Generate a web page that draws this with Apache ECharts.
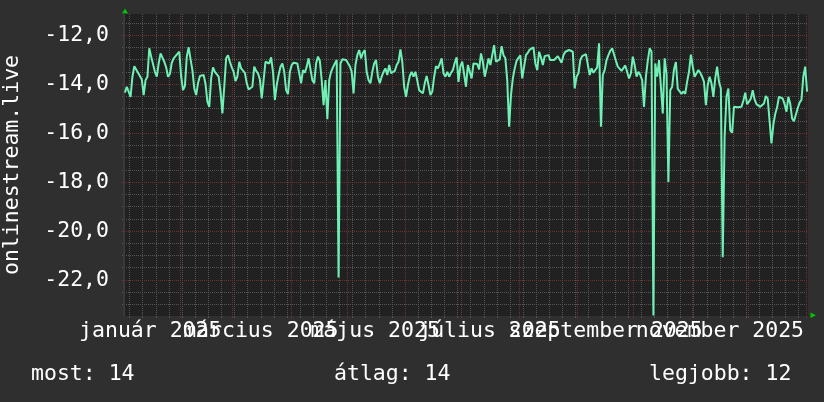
<!DOCTYPE html>
<html><head><meta charset="utf-8">
<script src="https://cdn.jsdelivr.net/npm/echarts@6/dist/echarts.min.js"></script>
<style>html,body{margin:0;padding:0;background:#2f2f2f}#c{width:824px;height:402px}</style>
</head><body><div id="c"></div>
<script>
// ---- data ----
const firstDate = '2025-01-02';          // date of the first daily value
const rangeStart = '2025-01-02';
const rangeEnd = '2026-01-02';
const values = [
-14.35,-14.11,-14.04,-14.52,-13.70,-13.27,-13.27,-13.54,-13.54,-13.81,
-14.45,-13.84,-13.70,-12.54,-12.88,-12.95,-13.50,-13.70,-13.16,-12.75,
-12.72,-13.09,-13.32,-13.70,-13.59,-13.13,-12.95,-12.86,-12.78,-12.68,
-13.70,-14.25,-14.08,-12.88,-12.50,-12.98,-13.43,-14.18,-14.45,-13.97,
-13.67,-13.66,-13.63,-14.00,-14.72,-14.93,-13.77,-13.32,-13.50,-13.51,
-13.70,-14.31,-15.20,-14.11,-12.95,-12.82,-13.09,-13.32,-13.50,-13.88,
-13.70,
-13.09,-13.36,-13.43,-13.54,-13.97,-14.22,-14.19,-14.11,-13.29,-13.46,
-13.56,-13.81,-14.59,-13.84,-13.09,-13.09,-13.16,-12.91,-13.50,-14.65,
-14.04,-13.63,-13.29,-13.16,-13.50,-14.25,-14.41,-13.50,-13.22,-13.13,
-13.16,-13.16,-13.56,-13.97,-13.43,-13.54,-13.29,-12.95,-12.88,-13.84,
-13.97,-13.16,-12.88,-13.05,-13.84,-14.86,-13.84,-15.44,-13.84,-13.50,
-13.32,-13.16,-13.02,-21.90,-13.16,-12.99,-12.95,-13.02,-13.09,-13.27,
-13.50,-14.38,-13.22,-12.82,-12.61,-12.95,-12.72,-12.61,-13.50,-13.84,
-13.97,-13.50,-13.16,-13.02,-13.70,-13.97,-13.70,-13.50,-13.36,-13.63,
-13.22,-13.56,-13.63,-13.46,-13.22,-13.09,-12.59,-13.09,-14.11,-14.52,
-14.04,-13.67,-13.50,-13.70,-13.50,-13.86,-14.25,-14.25,-14.38,-13.97,
-13.67,-14.04,-14.45,-14.31,-13.70,-13.27,-13.36,-13.18,-12.95,-13.56,
-13.70,-13.50,-13.70,-13.54,-13.43,-13.13,-12.91,-13.91,-13.27,-13.09,
-13.16,-14.11,-13.22,-13.29,-13.77,-13.16,-13.22,-13.18,-13.40,-12.75,
-13.09,-13.70,-13.36,-12.95,-13.22,-12.82,-12.41,-13.09,-13.09,-12.99,
-12.45,-12.82,-12.95,-13.84,-15.74,-14.45,-13.77,-13.36,-13.05,-12.93,
-12.83,-13.77,-13.70,-12.82,-12.72,-12.59,-12.54,-12.50,-13.16,-13.43,
-12.68,-12.91,-13.22,-12.86,-12.86,-12.82,-13.02,-13.05,-13.02,-13.05,
-12.86,-12.88,-13.13,-12.82,-12.68,-12.61,-12.61,-12.68,-12.68,-14.18,
-13.70,-13.56,
-13.02,-12.86,-12.83,-12.78,-12.82,-13.63,-13.36,-13.54,-13.46,-13.32,
-12.34,-15.74,-13.63,-13.43,-13.02,-12.82,-12.64,-12.54,-12.61,-13.05,
-13.29,-13.22,-13.46,-13.50,-13.24,-13.29,-13.77,-13.56,-12.88,-13.22,
-13.70,-13.50,-13.63,-13.84,-14.93,-13.70,-13.05,-12.54,-12.68,-23.45,
-13.16,-13.70,-13.02,-14.11,-15.20,-12.95,-13.60,-18.00,-14.25,-14.11,
-13.40,-13.10,-14.20,-14.30,-14.40,-14.30,-14.40,-13.90,-13.50,-12.80,
-13.29,-13.70,-13.77,-13.43,-13.54,-13.70,-13.91,-14.86,-14.04,-13.70,
-13.97,-14.52,-13.77,-13.29,-13.91,-14.18,-21.07,-16.15,-14.52,-14.18,
-15.88,-15.99,-14.93,-14.90,-14.95,-14.99,-14.93,-14.68,-14.35,-14.82,
-14.72,-14.59,-14.25,-14.63,-14.82,-14.87,-14.93,-14.86,-14.79,-14.49,
-14.59,-14.52,-16.42,-15.67,-15.22,-14.95,-14.52,-14.45,-14.59,-14.82,
-15.13,-14.52,-14.79,-15.40,-15.52,-15.54,-14.99,-14.76,-14.65,-13.70,
-13.29,-14.31
];
const monthNames = ['január','február','március','április','május','június','július','augusztus','szeptember','október','november','december'];
const labelEveryMonths = 2;
const yMin = -23.47, yMax = -11.14;
const yMajorTicks = [-22,-20,-18,-16,-14,-12];
const yMinorTicks = [-23,-22.5,-22,-21.5,-21,-20.5,-20,-19.5,-19,-18.5,-18,-17.5,-17,-16.5,-16,-15.5,-15,-14.5,-14,-13.5,-13,-12.5,-12,-11.5];
const axisTitle = 'onlinestream.live';
const statLabels = ['most', 'átlag', 'legjobb'];
const statValues = [14, 14, 12];

// ---- helpers ----
const DAY = 86400000;
const origin = Date.UTC(2025, 0, 1);
const toDay = s => (Date.parse(s + 'T00:00:00Z') - origin) / DAY;
const dayToDate = d => new Date(origin + d * DAY);
const xMin = toDay(rangeStart), xMax = toDay(rangeEnd);
const first = toDay(firstDate);
const seriesData = values.map((v, i) => [first + i + 0.5, v]);

const monthStarts = [], labelPos = [], weekStarts = [];
for (let m = 0; m <= 13; m++) {
  const d = (Date.UTC(2025, m, 1) - origin) / DAY;
  if (d >= xMin && d <= xMax) monthStarts.push(d);
  if (m % labelEveryMonths === 0 && m < 12) labelPos.push(d + 15);
}
for (let d = Math.ceil(xMin); d <= xMax; d++) {
  if (dayToDate(d).getUTCDay() === 0) weekStarts.push(d);
}
// the labels overlap in the original; split them over two axes so none gets dropped
const labelsA = labelPos.filter((_, i) => i % 2 === 0);
const labelsB = labelPos.filter((_, i) => i % 2 === 1);

const FONT = 'DejaVu Sans Mono';
const FS = 21.5;
const TXT = '#ffffff';
const MINOR = '#555555';
const MAJOR = '#6e3232';
const monthLabel = v => { const dt = dayToDate(v); return monthNames[dt.getUTCMonth()] + ' ' + dt.getUTCFullYear(); };
const xLabelStyle = (vals) => ({
  customValues: vals, margin: 4, color: TXT, fontFamily: FONT, fontSize: FS,
  hideOverlap: false, showMinLabel: true, showMaxLabel: true, formatter: monthLabel
});

const chart = echarts.init(document.getElementById('c'), null, {renderer: 'canvas'});
chart.setOption({
  animation: false,
  backgroundColor: '#2f2f2f',
  grid: {left: 124, right: 16, top: 14, bottom: 86, show: true, backgroundColor: '#212121', borderWidth: 0,
         containLabel: false, outerBoundsMode: 'none'},
  xAxis: [{
    type: 'value', min: xMin, max: xMax, z: 2, position: 'bottom',
    axisLine: {show: false},
    axisTick: {show: true, customValues: monthStarts, length: 2, lineStyle: {color: MAJOR}},
    splitLine: {show: true, lineStyle: {color: MAJOR, width: 1, type: [1, 1]}},
    axisLabel: xLabelStyle(labelsA)
  }, {
    type: 'value', min: xMin, max: xMax, position: 'bottom', z: 1,
    axisLine: {show: false},
    axisTick: {show: true, customValues: weekStarts, length: 2, lineStyle: {color: MINOR}},
    splitLine: {show: true, lineStyle: {color: MINOR, width: 1, type: [1, 1]}},
    axisLabel: xLabelStyle(labelsB)
  }],
  yAxis: [{
    type: 'value', min: yMin, max: yMax, position: 'left', z: 2,
    name: axisTitle, nameLocation: 'middle', nameGap: 101,
    nameTextStyle: {color: TXT, fontFamily: FONT, fontSize: FS},
    axisLine: {show: true, lineStyle: {color: '#3a3a3a', width: 2}},
    axisTick: {show: true, customValues: yMajorTicks, length: 2, lineStyle: {color: MAJOR}},
    splitLine: {show: true, lineStyle: {color: MAJOR, width: 1, type: [1, 1]}},
    axisLabel: {
      customValues: yMajorTicks, margin: 15, color: TXT, fontFamily: FONT, fontSize: FS,
      hideOverlap: false, showMinLabel: true, showMaxLabel: true,
      formatter: v => v.toFixed(1).replace('.', ',')
    }
  }, {
    type: 'value', min: yMin, max: yMax, position: 'left', z: 1,
    axisLine: {show: false},
    axisTick: {show: true, customValues: yMinorTicks, length: 2, lineStyle: {color: MINOR}},
    splitLine: {show: true, lineStyle: {color: MINOR, width: 1, type: [1, 1]}},
    axisLabel: {show: false}
  }],
  series: [{
    type: 'line', xAxisIndex: 0, yAxisIndex: 0, data: seriesData,
    showSymbol: false, z: 5,
    lineStyle: {color: '#6ff0b5', width: 2},
    emphasis: {disabled: true}
  }],
  graphic: [
    {type: 'polygon', shape: {points: [[122, 13.5], [128, 13.5], [125, 8.5]]}, style: {fill: '#00c800'}},
    {type: 'polygon', shape: {points: [[810.5, 312.5], [810.5, 318], [816, 315.25]]}, style: {fill: '#00c800'}},
    {type: 'text', x: 31, y: 374, style: {text: statLabels[0] + ': ' + statValues[0], fill: TXT, font: FS + 'px "' + FONT + '"', verticalAlign: 'middle'}},
    {type: 'text', x: 334, y: 374, style: {text: statLabels[1] + ': ' + statValues[1], fill: TXT, font: FS + 'px "' + FONT + '"', verticalAlign: 'middle'}},
    {type: 'text', x: 649, y: 374, style: {text: statLabels[2] + ': ' + statValues[2], fill: TXT, font: FS + 'px "' + FONT + '"', verticalAlign: 'middle'}}
  ]
});
</script></body></html>
